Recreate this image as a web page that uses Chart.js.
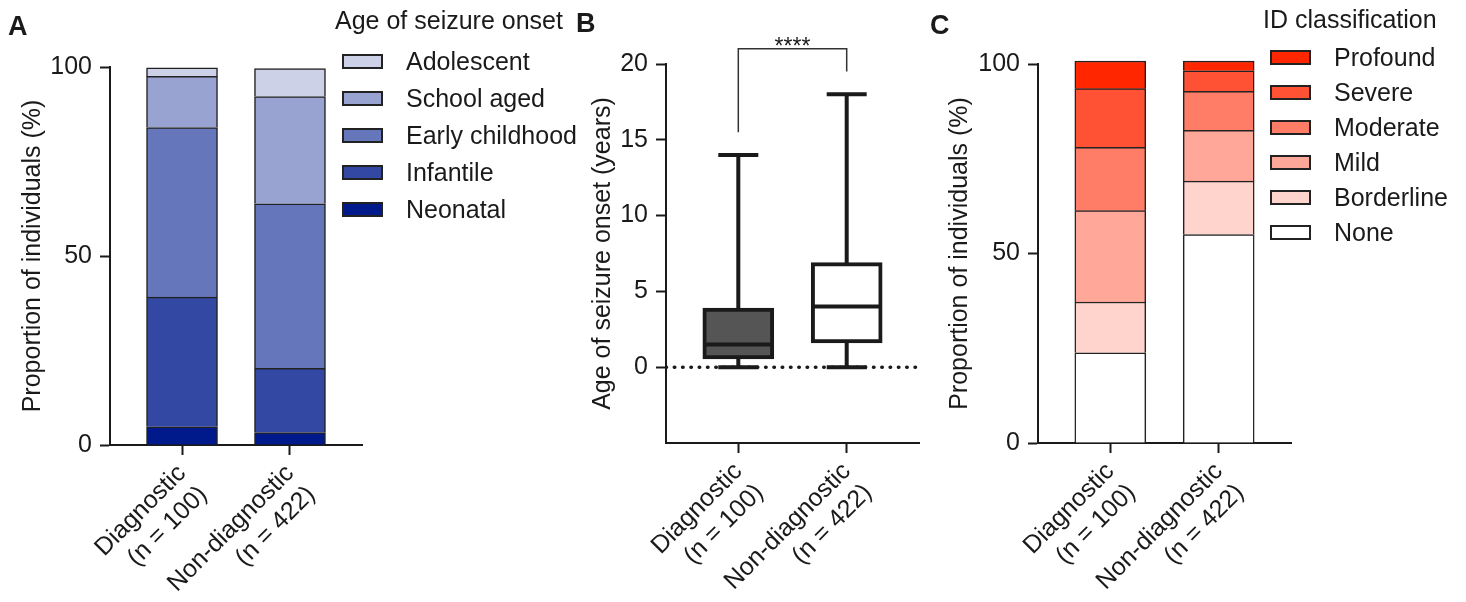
<!DOCTYPE html>
<html>
<head>
<meta charset="utf-8">
<script src="https://cdn.jsdelivr.net/npm/chart.js@4.4.1/dist/chart.umd.min.js"></script>
<style>
body{margin:0;background:#fff;}
#page{position:relative;width:1466px;height:602px;overflow:hidden;font-family:"Liberation Sans",Arial,sans-serif;color:#1a1a1a;}
canvas{position:absolute;top:0;}
.letter{position:absolute;font-weight:bold;font-size:27px;line-height:27px;}
.lg{position:absolute;font-size:25px;line-height:28px;white-space:nowrap;}
.row{position:absolute;height:28px;display:flex;align-items:center;white-space:nowrap;font-size:25px;}
.box{box-sizing:border-box;width:41px;height:15px;border:2px solid #222;}
</style>
</head>
<body>
<div id="page">
  <canvas id="chartA" width="370" height="602" style="left:0px"></canvas>
  <canvas id="chartB" width="370" height="602" style="left:560px"></canvas>
  <canvas id="chartC" width="380" height="602" style="left:920px"></canvas>
  <div class="letter" style="left:8px;top:13px">A</div>
  <div class="letter" style="left:576px;top:10px">B</div>
  <div class="letter" style="left:930px;top:12px">C</div>
  <div id="legendA"></div>
  <div id="legendC"></div>
</div>
<script>
// groups on the x axis
var groups = [["Diagnostic", "(n = 100)"], ["Non-diagnostic", "(n = 422)"]];

// panel A - age of seizure onset (% of individuals), bottom to top
var onsetLabels = ["Neonatal", "Infantile", "Early childhood", "School aged", "Adolescent"];
var onsetDiag = [4.8, 34.3, 44.9, 13.5, 2.3];
var onsetNonDiag = [3.3, 17.0, 43.5, 28.4, 7.4];
var onsetColors = ["#001a8c", "#3348a3", "#6676ba", "#99a3d1", "#ccd1e8"];

// panel B - age of onset in years: min, q1, median, q3, max
var boxDiag = [0, 0.55, 1.5, 3.9, 14];
var boxNonDiag = [0, 1.6, 4, 6.9, 18];
var boxColors = ["#555555", "#ffffff"];
var sigBracket = [15.5, 21, 19.5];
var sigText = "****";

// panel C - ID classification (% of individuals), bottom to top
var idLabels = ["None", "Borderline", "Mild", "Moderate", "Severe", "Profound"];
var idDiag = [23.8, 13.4, 24.1, 16.7, 15.5, 7.3];
var idNonDiag = [55.0, 14.1, 13.4, 10.3, 5.4, 2.6];
var idColors = ["#ffffff", "#ffd4cc", "#ffa899", "#ff7d66", "#ff5133", "#ff2600"];

var ff = "'Liberation Sans', Arial, sans-serif";
var ink = "#1a1a1a";
Chart.defaults.font.family = ff;
Chart.defaults.color = ink;

function xAxis(h) {
    return {
        type: "linear", min: -0.667, max: 1.667, stacked: true, offset: false,
        afterBuildTicks: function (s) { s.ticks = [{value: 0}, {value: 1}]; },
        afterFit: function (s) { s.height = h; },
        ticks: {
            callback: function (v) { return groups[v]; },
            minRotation: 45, maxRotation: 45, autoSkip: false, padding: 4,
            color: ink, font: {size: 25}
        },
        grid: {offset: false, drawOnChartArea: false, tickLength: 10, tickWidth: 2, tickColor: ink},
        border: {color: ink, width: 2}
    };
}

function yAxis(w, title, pad) {
    return {
        afterFit: function (s) { s.width = w; },
        ticks: {padding: 8, color: ink, font: {size: 25}},
        grid: {drawOnChartArea: false, tickLength: 10, tickWidth: 2, tickColor: ink},
        border: {color: ink, width: 2},
        title: {display: true, text: title, color: ink, font: {size: 25}, padding: {top: pad, bottom: 0}}
    };
}

function stackedChart(id, labels, a, b, colors, w, h, top, right, pad) {
    var sets = [];
    for (var i = 0; i < labels.length; i++) {
        sets.push({
            label: labels[i],
            data: [{x: 0, y: a[i]}, {x: 1, y: b[i]}],
            backgroundColor: colors[i],
            borderColor: "#222",
            borderWidth: 1.5,
            barThickness: 71,
            clip: false
        });
    }
    var y = yAxis(w, "Proportion of individuals (%)", pad);
    y.min = 0; y.max = 100; y.stacked = true;
    y.ticks.stepSize = 50;
    return new Chart(document.getElementById(id), {
        type: "bar",
        data: {datasets: sets},
        options: {
            responsive: false, animation: false, events: [],
            layout: {autoPadding: false, padding: {top: top, right: right, left: 0, bottom: 0}},
            plugins: {legend: {display: false}, tooltip: {enabled: false}},
            scales: {x: xAxis(h), y: y}
        }
    });
}

stackedChart("chartA", onsetLabels, onsetDiag, onsetNonDiag, onsetColors, 110, 157, 67, 8, 18);
stackedChart("chartC", idLabels, idDiag, idNonDiag, idColors, 118, 159, 64, 9, 25);

// panel B box plot
var boxes = [boxDiag, boxNonDiag];
var starsPlugin = {
    id: "stars",
    afterDatasetsDraw: function (chart) {
        var ctx = chart.ctx;
        var x = (chart.scales.x.getPixelForValue(0) + chart.scales.x.getPixelForValue(1)) / 2;
        var y = chart.scales.y.getPixelForValue(sigBracket[1]);
        ctx.save();
        ctx.fillStyle = ink;
        ctx.font = "23px " + ff;
        ctx.textAlign = "center";
        ctx.textBaseline = "alphabetic";
        ctx.fillText(sigText, x, y + 5);
        ctx.restore();
    }
};

var bSets = [];
for (var i = 0; i < boxes.length; i++) {
    bSets.push({
        type: "line", order: 5,
        data: [{x: i, y: boxes[i][0]}, {x: i, y: boxes[i][4]}],
        borderColor: ink, borderWidth: 4, pointRadius: 0
    });
}
bSets.push({
    type: "line", order: 4,
    data: [{x: -0.667, y: 0}, {x: 1.667, y: 0}],
    borderColor: ink, borderWidth: 3.5, borderDash: [0.5, 7.8], borderCapStyle: "round", pointRadius: 0
});
bSets.push({
    type: "bar", order: 3,
    data: boxes.map(function (b, i) { return {x: i, y: [b[1], b[3]]}; }),
    backgroundColor: boxColors, borderColor: ink, borderWidth: 4, borderSkipped: false,
    barThickness: 71
});
bSets.push({
    type: "line", order: 2, showLine: false,
    data: [{x: 0, y: boxDiag[0]}, {x: 0, y: boxDiag[4]}, {x: 1, y: boxNonDiag[0]}, {x: 1, y: boxNonDiag[4]}],
    pointStyle: "line", pointRadius: 20, pointBorderWidth: 4, pointBorderColor: ink
});
bSets.push({
    type: "line", order: 1, showLine: false,
    data: [{x: 0, y: boxDiag[2]}, {x: 1, y: boxNonDiag[2]}],
    pointStyle: "line", pointRadius: 33.5, pointBorderWidth: 4, pointBorderColor: ink
});
bSets.push({
    type: "line", order: 0, clip: false,
    data: [{x: 0, y: sigBracket[0]}, {x: 0, y: sigBracket[1]}, {x: 1, y: sigBracket[1]}, {x: 1, y: sigBracket[2]}],
    borderColor: "#333", borderWidth: 1.5, pointRadius: 0
});

var yB = yAxis(106, "Age of seizure onset (years)", 28);
yB.min = -5; yB.max = 20;
yB.ticks.stepSize = 5;
yB.afterBuildTicks = function (s) { s.ticks = s.ticks.filter(function (t) { return t.value >= 0; }); };
var xB = xAxis(159);
xB.stacked = false;

new Chart(document.getElementById("chartB"), {
    type: "bar",
    data: {datasets: bSets},
    options: {
        responsive: false, animation: false, events: [],
        layout: {autoPadding: false, padding: {top: 64, right: 11, left: 0, bottom: 0}},
        plugins: {legend: {display: false}, tooltip: {enabled: false}},
        scales: {x: xB, y: yB}
    },
    plugins: [starsPlugin]
});

// legends
function legend(id, title, labels, colors, left, top, first, step, textGap) {
    var el = document.getElementById(id);
    var html = '<div class="lg" style="left:' + (left - 7) + 'px;top:' + top + 'px">' + title + '</div>';
    var n = labels.length;
    for (var k = 0; k < n; k++) {
        var i = n - 1 - k;
        var cy = first + step * k;
        html += '<div class="row" style="left:' + left + 'px;top:' + (cy - 14) + 'px">' +
            '<div class="box" style="background:' + colors[i] + '"></div>' +
            '<span style="margin-left:' + textGap + 'px">' + labels[i] + '</span></div>';
    }
    el.innerHTML = html;
}
legend("legendA", "Age of seizure onset", onsetLabels, onsetColors, 342, 6, 61, 37, 23);
legend("legendC", "ID classification", idLabels, idColors, 1270, 5, 57, 35, 23);
</script>
</body>
</html>
